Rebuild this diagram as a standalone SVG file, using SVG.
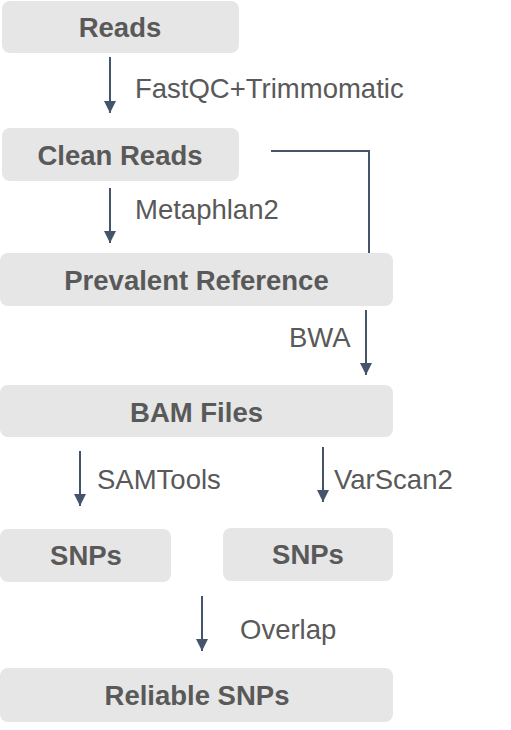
<svg xmlns="http://www.w3.org/2000/svg" width="511" height="730" viewBox="0 0 511 730">
<style>
.box{fill:#e6e6e6;}
.t{font-family:"Liberation Sans",Arial,sans-serif;font-weight:bold;font-size:27.5px;fill:#595959;text-anchor:middle;}
.l{font-family:"Liberation Sans",Arial,sans-serif;font-size:27.5px;fill:#595959;}
.c{stroke:#44546a;stroke-width:2;fill:none;}
</style>
<defs>
<marker id="ah" markerUnits="userSpaceOnUse" markerWidth="14" markerHeight="14" viewBox="0 0 14 14" refX="12" refY="7" orient="auto">
<path d="M0,1 L12,7 L0,13 Z" fill="#44546a"/>
</marker>
</defs>
<rect width="511" height="730" fill="#ffffff"/>
<g id="connectors">
<line class="c" x1="110" y1="57" x2="110" y2="113" marker-end="url(#ah)"/>
<line class="c" x1="110" y1="188" x2="110" y2="243" marker-end="url(#ah)"/>
<polyline class="c" points="271,151 369,151 369,253"/>
<line class="c" x1="366" y1="310" x2="366" y2="375" marker-end="url(#ah)"/>
<line class="c" x1="80" y1="451" x2="80" y2="506" marker-end="url(#ah)"/>
<line class="c" x1="323" y1="447" x2="323" y2="502" marker-end="url(#ah)"/>
<line class="c" x1="202" y1="596" x2="202" y2="651" marker-end="url(#ah)"/>
<text class="l" x="135" y="98">FastQC+Trimmomatic</text>
<text class="l" x="135" y="219">Metaphlan2</text>
<text class="l" x="289" y="347">BWA</text>
<text class="l" x="97" y="489">SAMTools</text>
<text class="l" x="334" y="489">VarScan2</text>
<text class="l" x="240" y="639">Overlap</text>
</g>
<g id="reads"><rect class="box" x="2" y="1" width="237" height="52" rx="8"/><text class="t" x="120" y="37">Reads</text></g>
<g id="clean-reads"><rect class="box" x="2" y="128" width="237" height="53" rx="8"/><text class="t" x="120" y="165">Clean Reads</text></g>
<g id="prevalent-reference"><rect class="box" x="0" y="253" width="393" height="53" rx="8"/><text class="t" x="196.5" y="290">Prevalent Reference</text></g>
<g id="bam-files"><rect class="box" x="0" y="385" width="393" height="52" rx="8"/><text class="t" x="196.5" y="422">BAM Files</text></g>
<g id="snps-left"><rect class="box" x="0" y="529" width="171" height="53" rx="8"/><text class="t" x="86" y="565">SNPs</text></g>
<g id="snps-right"><rect class="box" x="223" y="528" width="170" height="53" rx="8"/><text class="t" x="308" y="564">SNPs</text></g>
<g id="reliable-snps"><rect class="box" x="0" y="668" width="393" height="54" rx="8"/><text class="t" x="197" y="705">Reliable SNPs</text></g>
</svg>
